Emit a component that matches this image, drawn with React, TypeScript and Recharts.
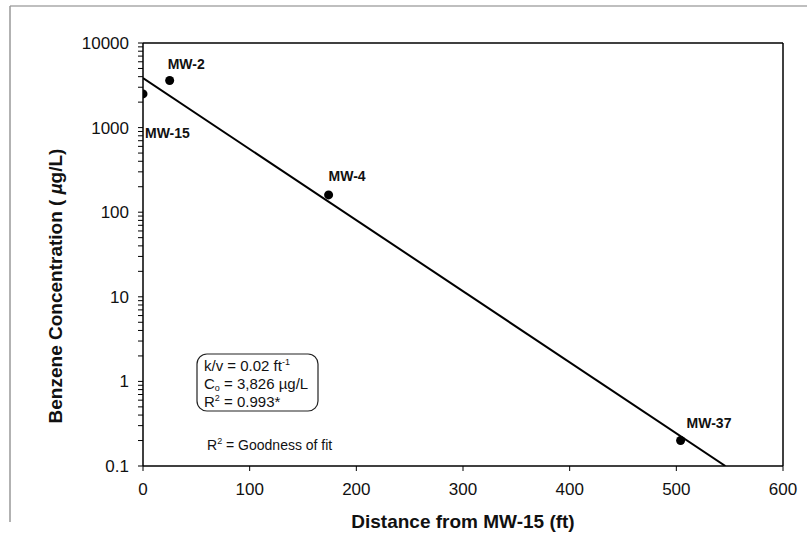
import {
  ComposedChart, Line, Scatter, XAxis, YAxis, ReferenceLine, LabelList, Customized
} from 'recharts'

// monitoring wells: distance from MW-15 (ft) and benzene (ug/L)
const WELLS = ['MW-15', 'MW-2', 'MW-4', 'MW-37']
const DISTANCE = [0, 25, 174, 504]
const BENZENE = [2500, 3600, 160, 0.2]

// fitted first-order decay line, end points
const FIT_X = [0, 546]
const FIT_Y = [3850, 0.1]

const X_TICKS = [0, 100, 200, 300, 400, 500, 600]
const Y_MAJOR = [0.1, 1, 10, 100, 1000, 10000]
const Y_MINOR_STEPS = [2, 3, 4, 5, 6, 7, 8, 9]

const FONT = '"Liberation Sans", Arial, Helvetica, sans-serif'

const wellData = WELLS.map((name, i) => ({ name, x: DISTANCE[i], y: BENZENE[i] }))
const fitData = FIT_X.map((x, i) => ({ x, y: FIT_Y[i] }))

const yTicks: number[] = []
Y_MAJOR.forEach((d, i) => {
  yTicks.push(d)
  if (i < Y_MAJOR.length - 1) Y_MINOR_STEPS.forEach(s => yTicks.push(+(d * s).toPrecision(3)))
})

// label offsets relative to each point
const LABEL_OFFSET: Record<string, [number, number]> = {
  'MW-15': [2, 44],
  'MW-2': [-2, -12],
  'MW-4': [0, -14],
  'MW-37': [6, -13],
}

const WellLabel = (props: any) => {
  const { x, y, width, height, value } = props
  const cx = x + width / 2
  const cy = y + height / 2
  const [dx, dy] = LABEL_OFFSET[value] || [0, 0]
  return (
    <text x={cx + dx} y={cy + dy} fontSize={14} fontWeight="bold" fontFamily={FONT} fill="#111">
      {value}
    </text>
  )
}

const Dot = (props: any) => <circle cx={props.cx} cy={props.cy} r={4.5} fill="#000" />

const Annotations = () => (
  <g fontFamily={FONT} fill="#111">
    <line x1={10} y1={6} x2={807} y2={6} stroke="#aaa" strokeWidth={1.5} />
    <line x1={10} y1={6} x2={10} y2={522} stroke="#999" strokeWidth={1.5} />
    <text x={463} y={528} textAnchor="middle" fontSize={19} fontWeight="bold">
      Distance from MW-15 (ft)
    </text>
    <text x={62} y={286} textAnchor="middle" fontSize={19} fontWeight="bold" transform="rotate(-90 62 286)">
      Benzene Concentration ( <tspan fontStyle="italic">µ</tspan>g/L)
    </text>
    <rect x={197} y={354} width={121} height={57} rx={10} fill="#fff" stroke="#222" strokeWidth={1.2} />
    <text x={204} y={371} fontSize={15}>
      k/v = 0.02 ft<tspan dy={-6} fontSize={9}>-1</tspan>
    </text>
    <text x={204} y={389} fontSize={15}>
      C<tspan fontSize={9} dy={2}>o</tspan><tspan dy={-2}> = 3,826 µg/L</tspan>
    </text>
    <text x={204} y={407} fontSize={15}>
      R<tspan dy={-6} fontSize={9}>2</tspan><tspan dy={6}> = 0.993*</tspan>
    </text>
    <text x={207} y={450} fontSize={14}>
      R<tspan dy={-6} fontSize={9}>2</tspan><tspan dy={6}> = Goodness of fit</tspan>
    </text>
  </g>
)

export default function App() {
  return (
    <div style={{ position: 'absolute', left: 0, top: 0, width: 807, height: 555, background: '#fff' }}>
      <ComposedChart
        width={807}
        height={555}
        margin={{ top: 43, right: 24, bottom: 29, left: 63 }}
        style={{ fontFamily: FONT }}
      >
        <XAxis
          type="number"
          dataKey="x"
          domain={[0, 600]}
          ticks={X_TICKS}
          allowDataOverflow
          height={60}
          tickSize={5}
          tickMargin={12}
          axisLine={{ stroke: '#000', strokeWidth: 1.5 }}
          tickLine={{ stroke: '#000' }}
          tick={{ fill: '#111', fontSize: 17 }}
        />
        <YAxis
          type="number"
          dataKey="y"
          scale="log"
          domain={[0.1, 10000]}
          ticks={yTicks}
          interval={0}
          allowDataOverflow
          width={80}
          tickSize={5}
          tickMargin={9}
          axisLine={{ stroke: '#000', strokeWidth: 1.5 }}
          tickLine={{ stroke: '#000' }}
          tick={{ fill: '#111', fontSize: 17 }}
          tickFormatter={(v: number) => (Y_MAJOR.includes(v) ? String(v) : '')}
        />
        <ReferenceLine y={10000} stroke="#000" strokeWidth={1.5} />
        <ReferenceLine x={600} stroke="#000" strokeWidth={1.5} />
        <Line
          data={fitData}
          dataKey="y"
          stroke="#000"
          strokeWidth={2}
          dot={false}
          activeDot={false}
          isAnimationActive={false}
        />
        <Scatter data={wellData} dataKey="y" shape={<Dot />} isAnimationActive={false}>
          <LabelList dataKey="name" content={<WellLabel />} />
        </Scatter>
        <Customized component={Annotations} />
      </ComposedChart>
    </div>
  )
}
